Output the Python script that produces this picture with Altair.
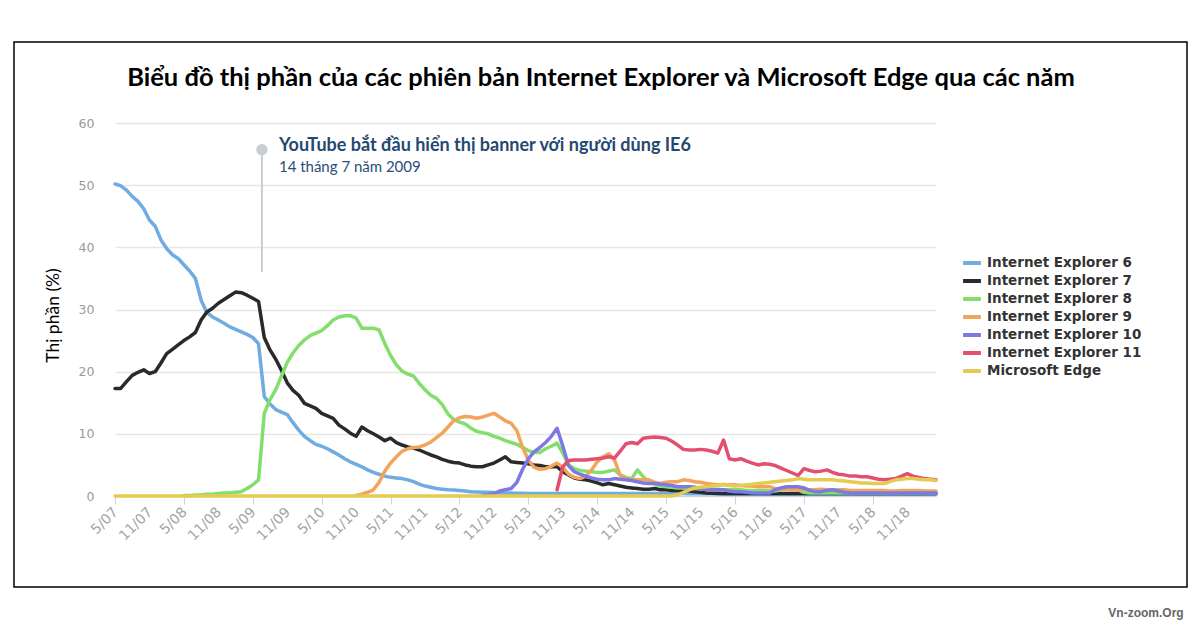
import altair as alt
import pandas as pd

# ---------------- data ----------------
series_names = [
    "Internet Explorer 6",
    "Internet Explorer 7",
    "Internet Explorer 8",
    "Internet Explorer 9",
    "Internet Explorer 10",
    "Internet Explorer 11",
    "Microsoft Edge",
]
series_colors = ["#70abe2", "#2a2a2a", "#84de6c", "#f2a45d", "#7c79e4", "#e3506f", "#e4cb52"]

# first month of each series, counted in months after May 2007 (monthly data to Apr 2019)
series_start = [0, 0, 12, 42, 64, 77, 0]

ie6 = [50.2, 49.9, 49.2, 48.2, 47.4, 46.2, 44.4, 43.4, 41.2, 39.8,
       38.8, 38.2, 37.2, 36.2, 35.0, 31.5, 29.5, 28.8, 28.3, 27.8,
       27.2, 26.8, 26.4, 26.0, 25.5, 24.5, 16.0, 14.8, 13.9, 13.5,
       13.1, 11.8, 10.6, 9.6, 8.9, 8.3, 8.0, 7.6, 7.1, 6.6,
       6.0, 5.5, 5.1, 4.7, 4.2, 3.8, 3.5, 3.2, 3.0, 2.9,
       2.8, 2.6, 2.3, 1.9, 1.6, 1.4, 1.2, 1.1, 1.0, 0.95,
       0.9, 0.8, 0.7, 0.65, 0.6, 0.6, 0.55, 0.5, 0.5, 0.5,
       0.45, 0.45, 0.4, 0.4, 0.4, 0.4, 0.4, 0.4, 0.4, 0.4,
       0.4, 0.4, 0.4, 0.4, 0.4, 0.4, 0.4, 0.4, 0.4, 0.4,
       0.4, 0.4, 0.4, 0.4, 0.4, 0.4, 0.4, 0.4, 0.4, 0.4,
       0.35, 0.35, 0.35, 0.35, 0.35, 0.3, 0.3, 0.3, 0.3, 0.3,
       0.3, 0.3, 0.3, 0.3, 0.3, 0.3, 0.3, 0.3, 0.3, 0.3,
       0.3, 0.3, 0.3, 0.3, 0.3, 0.3, 0.3, 0.3, 0.3, 0.3,
       0.3, 0.3, 0.3, 0.3, 0.3, 0.3, 0.3, 0.3, 0.3, 0.3,
       0.3, 0.3, 0.3, 0.3]

ie7 = [17.3, 17.3, 18.4, 19.4, 19.9, 20.3, 19.7, 20.0, 21.4, 22.9,
       23.6, 24.3, 25.0, 25.6, 26.3, 28.3, 29.6, 30.2, 31.0, 31.6,
       32.2, 32.8, 32.7, 32.3, 31.8, 31.3, 25.5, 23.5, 22.0, 20.2,
       18.2, 17.0, 16.2, 14.9, 14.5, 14.1, 13.3, 12.9, 12.5, 11.4,
       10.8, 10.1, 9.6, 11.1, 10.5, 10.0, 9.5, 8.9, 9.3, 8.6,
       8.2, 7.9, 7.7, 7.4, 7.0, 6.6, 6.3, 5.9, 5.6, 5.4,
       5.3, 5.0, 4.8, 4.7, 4.7, 5.0, 5.3, 5.8, 6.3, 5.5,
       5.4, 5.3, 5.2, 5.0, 4.9, 4.7, 4.7, 4.7, 3.9, 3.4,
       2.9, 2.7, 2.6, 2.4, 2.1, 1.8, 2.0, 1.8, 1.6, 1.4,
       1.3, 1.2, 1.1, 1.1, 1.2, 1.0, 1.0, 0.9, 0.9, 0.8,
       0.8, 0.7, 0.6, 0.5, 0.45, 0.45, 0.4, 0.4, 0.4, 0.4,
       0.4, 0.4, 0.4, 0.4, 0.4, 0.4, 0.4, 0.4, 0.4, 0.4,
       0.4, 0.4, 0.4, 0.4, 0.4, 0.4, 0.4, 0.4, 0.4, 0.4,
       0.4, 0.4, 0.4, 0.4, 0.4, 0.4, 0.4, 0.4, 0.4, 0.4,
       0.4, 0.4, 0.4, 0.4]

ie8 = [0.1, 0.1, 0.15, 0.2, 0.3, 0.3, 0.4, 0.5,
       0.5, 0.6, 0.7, 1.2, 1.8, 2.6, 13.3, 15.5, 17.1, 19.3,
       21.5, 23.0, 24.2, 25.1, 25.8, 26.2, 26.6, 27.4, 28.3, 28.8,
       29.0, 29.0, 28.6, 27.0, 27.0, 27.0, 26.7, 24.5, 22.6, 21.1,
       20.1, 19.6, 19.3, 18.1, 17.1, 16.2, 15.7, 14.7, 13.2, 12.3,
       11.9, 11.6, 10.9, 10.4, 10.2, 10.0, 9.6, 9.3, 8.9, 8.6,
       8.3, 7.8, 7.3, 7.0, 7.0, 7.6, 8.0, 8.5, 6.9, 5.0,
       4.4, 4.1, 4.0, 3.9, 3.8, 3.8, 4.0, 4.2, 3.4, 3.0,
       2.8, 4.2, 3.1, 2.3, 1.9, 1.6, 1.5, 1.4, 1.3, 1.3,
       1.2, 1.2, 1.2, 1.1, 1.1, 1.1, 1.0, 1.0, 1.0, 1.0,
       0.9, 0.9, 0.9, 0.9, 0.8, 0.8, 1.0, 1.2, 1.2, 1.0,
       0.6, 0.5, 0.5, 0.5, 0.5, 0.5, 0.5, 0.5, 0.5, 0.5,
       0.5, 0.5, 0.5, 0.5, 0.5, 0.5, 0.5, 0.5, 0.5, 0.5,
       0.5, 0.5, 0.5, 0.5]

ie9 = [0.1, 0.3, 0.6, 1.0, 2.2, 4.0, 5.3, 6.3,
       7.2, 7.6, 7.8, 7.9, 8.2, 8.7, 9.4, 10.1, 11.1, 12.1,
       12.6, 12.8, 12.7, 12.5, 12.7, 13.0, 13.3, 12.7, 12.1, 11.7,
       10.5, 7.8, 5.8, 4.6, 4.3, 4.4, 4.8, 5.3, 4.6, 3.5,
       3.0, 2.8, 3.2, 4.2, 5.5, 6.3, 6.8, 5.8, 3.3, 2.8,
       2.6, 2.6, 2.6, 2.6, 2.2, 2.0, 2.2, 2.3, 2.3, 2.6,
       2.5, 2.3, 2.2, 2.0, 1.9, 1.8, 1.8, 1.8, 1.8, 1.7,
       1.6, 1.6, 1.5, 1.5, 1.5, 1.2, 1.1, 1.1, 1.0, 1.0,
       1.0, 1.0, 1.0, 1.1, 1.0, 1.0, 1.0, 1.0, 0.9, 0.9,
       0.9, 0.9, 0.9, 0.9, 0.9, 0.8, 0.8, 0.9, 0.9, 0.9,
       0.9, 0.8, 0.8, 0.8]

ie10 = [0.1, 0.2, 0.4, 0.8, 1.0, 1.2,
        2.2, 4.3, 6.0, 7.1, 7.8, 8.6, 9.6, 10.9, 8.0, 4.9,
        3.9, 3.5, 3.2, 2.9, 2.7, 2.6, 2.6, 2.8, 2.7, 2.6,
        2.5, 2.3, 2.1, 2.0, 2.0, 1.9, 1.8, 1.7, 1.5, 1.5,
        1.5, 1.4, 1.2, 1.0, 1.0, 1.0, 1.0, 0.8, 0.7, 0.7,
        0.6, 0.5, 0.5, 0.5, 0.5, 1.0, 1.3, 1.5, 1.5, 1.5,
        1.3, 0.9, 0.7, 0.7, 0.9, 1.0, 0.8, 0.6, 0.5, 0.5,
        0.5, 0.5, 0.5, 0.5, 0.5, 0.5, 0.5, 0.5, 0.5, 0.5,
        0.5, 0.5, 0.5, 0.5]

ie11 = [1.0, 4.7, 5.7,
        5.8, 5.8, 5.8, 5.9, 6.0, 6.1, 6.3, 6.1, 7.2, 8.4,
        8.6, 8.4, 9.3, 9.4, 9.5, 9.4, 9.3, 8.8, 8.2, 7.5,
        7.4, 7.4, 7.5, 7.4, 7.2, 6.9, 9.0, 6.0, 5.8, 6.0,
        5.6, 5.3, 5.0, 5.2, 5.1, 4.9, 4.5, 4.1, 3.7, 3.3,
        4.4, 4.1, 3.9, 4.0, 4.2, 3.8, 3.5, 3.4, 3.2, 3.2,
        3.1, 3.1, 2.9, 2.7, 2.6, 2.7, 2.8, 3.2, 3.6, 3.2,
        3.0, 2.8, 2.7, 2.6]

edge = [0.0, 0.0, 0.0, 0.0, 0.0, 0.0, 0.0, 0.0, 0.0, 0.0,
        0.0, 0.0, 0.0, 0.0, 0.0, 0.0, 0.0, 0.0, 0.0, 0.0,
        0.0, 0.0, 0.0, 0.0, 0.0, 0.0, 0.0, 0.0, 0.0, 0.0,
        0.0, 0.0, 0.0, 0.0, 0.0, 0.0, 0.0, 0.0, 0.0, 0.0,
        0.0, 0.0, 0.0, 0.0, 0.0, 0.0, 0.0, 0.0, 0.0, 0.0,
        0.0, 0.0, 0.0, 0.0, 0.0, 0.0, 0.0, 0.0, 0.0, 0.0,
        0.0, 0.0, 0.0, 0.0, 0.0, 0.0, 0.0, 0.0, 0.0, 0.0,
        0.0, 0.0, 0.0, 0.0, 0.0, 0.0, 0.0, 0.0, 0.0, 0.0,
        0.0, 0.0, 0.0, 0.0, 0.0, 0.0, 0.0, 0.0, 0.0, 0.0,
        0.0, 0.0, 0.0, 0.0, 0.0, 0.0, 0.0, 0.0, 0.2, 0.6,
        1.0, 1.3, 1.4, 1.5, 1.6, 1.7, 1.9, 1.7, 1.6, 1.7,
        1.8, 1.9, 2.0, 2.1, 2.2, 2.3, 2.4, 2.5, 2.6, 2.8,
        2.7, 2.6, 2.6, 2.6, 2.6, 2.6, 2.5, 2.4, 2.3, 2.2,
        2.1, 2.1, 2.0, 2.0, 2.0, 2.3, 2.6, 2.7, 2.8, 2.8,
        2.7, 2.6, 2.6, 2.5]

series_values = [ie6, ie7, ie8, ie9, ie10, ie11, edge]

# one tick every 6 months, starting May 2007
tick_labels = ["5/07", "11/07", "5/08", "11/08", "5/09", "11/09", "5/10", "11/10",
               "5/11", "11/11", "5/12", "11/12", "5/13", "11/13", "5/14", "11/14",
               "5/15", "11/15", "5/16", "11/16", "5/17", "11/17", "5/18", "11/18"]
y_ticks = [0, 10, 20, 30, 40, 50, 60]

title_text = "Biểu đồ thị phần của các phiên bản Internet Explorer và Microsoft Edge qua các năm"
y_title = "Thị phần (%)"
event_title = "YouTube bắt đầu hiển thị banner với người dùng IE6"
event_date_text = "14 tháng 7 năm 2009"
event_date = "2009-06-18"
event_top, event_bottom = 55.7, 36.0
event_line1_y, event_line2_y = 56.25, 52.9
watermark = "Vn-zoom.Org"

# ---------------- tables ----------------
FIRST_MONTH = pd.Timestamp("2007-05-01")
N_MONTHS = 144
months = pd.date_range(FIRST_MONTH, periods=N_MONTHS, freq="MS")
rows = []
for name, start, vals in zip(series_names, series_start, series_values):
    for i, v in enumerate(vals):
        rows.append({"m": start + i, "date": months[start + i].strftime("%Y-%m"),
                     "value": v, "series": name})
df = pd.DataFrame(rows)

tick_values = [6 * i for i in range(len(tick_labels))]
tick_df = pd.DataFrame({"m": tick_values, "value": [0] * len(tick_labels), "label": tick_labels})
event_m = (pd.Timestamp(event_date) - FIRST_MONTH).days / 30.44

x_scale = alt.Scale(domain=[0, N_MONTHS - 1], nice=False, zero=False)
y_scale = alt.Scale(domain=[0, 60], nice=False)

x_axis = alt.Axis(values=tick_values, labels=False,
                  tickColor="#ccd3e0", tickSize=8, tickWidth=1, domainColor="#ccd3e0",
                  grid=False, title=None)
y_axis = alt.Axis(values=y_ticks, gridColor="#e6e6e6", gridWidth=1.5, domain=False,
                  ticks=False, labelColor="#9a9a9a", labelFont="DejaVu Sans",
                  labelFontSize=12.5, labelPadding=21, title=y_title,
                  titleFont="Lato", titleFontSize=17.5, titleFontWeight="normal",
                  titleColor="black", titleX=-53, titleY=192, titleAlign="center",
                  titleBaseline="bottom", titleAngle=270)

lines = alt.Chart(df).mark_line(strokeWidth=3.5, strokeJoin="round", strokeCap="round").encode(
    x=alt.X("m:Q", scale=x_scale, axis=x_axis),
    y=alt.Y("value:Q", scale=y_scale, axis=y_axis, title=y_title),
    color=alt.Color("series:N",
                    scale=alt.Scale(domain=series_names, range=series_colors),
                    legend=alt.Legend(title=None, orient="none", legendX=847, legendY=130,
                                      symbolType="M-1.15,0L1.15,0", symbolStrokeWidth=4,
                                      symbolSize=240,
                                      labelFont="DejaVu Sans", labelFontSize=13.5,
                                      labelFontWeight="bold", labelColor="#333333",
                                      labelOffset=5, rowPadding=0, padding=0, labelLimit=300)),
)

x_labels = alt.Chart(tick_df).mark_text(angle=315, align="right", baseline="middle",
                                        font="DejaVu Sans", fontSize=14,
                                        color="#a3a3a3").encode(
    x="m:Q", y=alt.Y("value:Q", title=y_title), text="label:N",
    xOffset=alt.value(1), yOffset=alt.value(14))

ann_df = pd.DataFrame({"m": [event_m], "value": [event_top], "value2": [event_bottom]})
rule = alt.Chart(ann_df).mark_rule(color="#c3cad5", strokeWidth=1.8).encode(
    x="m:Q", y=alt.Y("value:Q", title=y_title), y2="value2:Q")
dot = alt.Chart(ann_df).mark_circle(size=130, color="#c9cdd4", opacity=1).encode(
    x="m:Q", y=alt.Y("value:Q", title=y_title))

txt_df = pd.DataFrame({"m": [event_m, event_m],
                       "value": [event_line1_y, event_line2_y],
                       "label": [event_title, event_date_text]})
txt1 = alt.Chart(txt_df.iloc[[0]]).mark_text(align="left", baseline="middle", dx=17, font="Lato",
                                             fontSize=18, fontWeight="bold", color="#254870").encode(
    x="m:Q", y=alt.Y("value:Q", title=y_title), text="label:N")
txt2 = alt.Chart(txt_df.iloc[[1]]).mark_text(align="left", baseline="middle", dx=17, font="Lato",
                                             fontSize=15, color="#2c4e76").encode(
    x="m:Q", y=alt.Y("value:Q", title=y_title), text="label:N")

one = pd.DataFrame({"k": [0]})
frame = alt.Chart(one).mark_rect(filled=False, stroke="black", strokeWidth=1.5).encode(
    x=alt.value(-101), x2=alt.value(1072), y=alt.value(-81), y2=alt.value(464))
title_mark = alt.Chart(one).mark_text(font="Lato", fontSize=25.5, fontWeight="bold", color="black",
                                      align="center", baseline="middle").encode(
    x=alt.value(486), y=alt.value(-45), text=alt.value(title_text))
mark_wm = alt.Chart(one).mark_text(font="Liberation Sans", fontSize=12, fontWeight="bold",
                                   color="#666666", align="center", baseline="middle").encode(
    x=alt.value(1031), y=alt.value(490), text=alt.value(watermark))

chart = alt.layer(frame, title_mark, lines, x_labels, rule, dot, txt1, txt2, mark_wm).properties(
    width=821, height=373,
    background="white",
    autosize=alt.AutoSizeParams(type="none"),
    padding={"left": 107, "top": 115, "right": 256, "bottom": 125},
).configure_view(stroke=None)

chart.save("out.html", embed_options={"renderer": "svg", "actions": False})
